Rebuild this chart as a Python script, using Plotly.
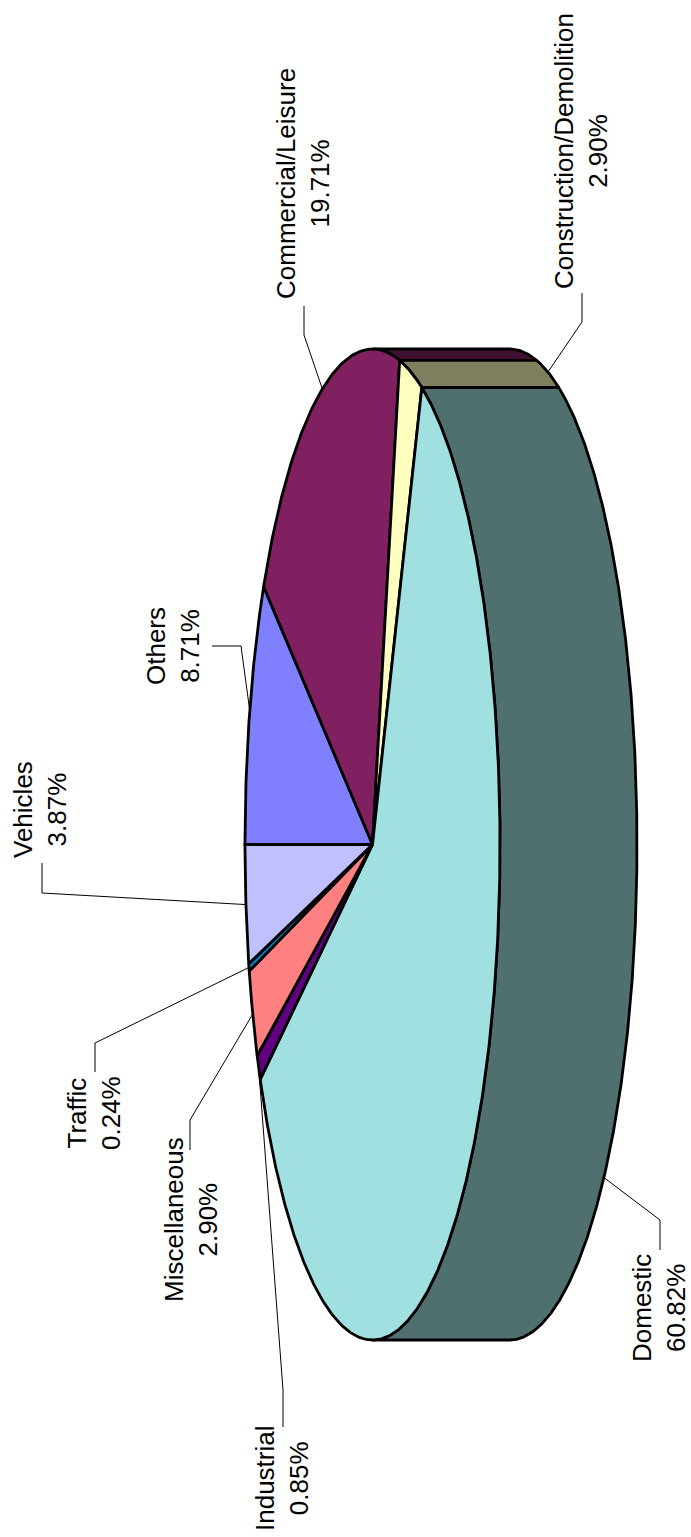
import numpy as np
import plotly.graph_objects as go

# Emission shares by source sector (percent), in pie order clockwise from 12 o'clock
categories = ["Others", "Commercial/Leisure", "Construction/Demolition", "Domestic",
              "Industrial", "Miscellaneous", "Traffic", "Vehicles"]
shares = [8.71, 19.71, 2.90, 60.82, 0.85, 2.90, 0.24, 3.87]
top_colors = ["#8080FF", "#802060", "#FFFFC0", "#A0E0E0",
              "#600080", "#FF8080", "#0080C0", "#C0C0FF"]

# Page geometry (pixel units on hidden axes); chart is drawn turned a quarter-turn
W, H = 691, 1537
CX, CY = 372.5, 844.5      # pie centre
RX, RY = 127.5, 495.5      # semi-axes of the tilted top face
DEPTH = 137                # thickness of the pie, drawn towards +x

# Label block centres and leader start/elbow points
label_layout = {
    "Others":                  dict(c=(173, 646),  start=(212, 646),  elbow=(241, 646)),
    "Commercial/Leisure":      dict(c=(303, 184),  start=(304, 306),  elbow=(304, 335)),
    "Construction/Demolition": dict(c=(581, 151),  start=(582, 293),  elbow=(582, 322)),
    "Domestic":                dict(c=(659, 1308), start=(660, 1250), elbow=(660, 1220)),
    "Industrial":              dict(c=(282, 1478), start=(283, 1427), elbow=(283, 1390)),
    "Miscellaneous":           dict(c=(191, 1220), start=(190, 1150), elbow=(190, 1120)),
    "Traffic":                 dict(c=(94, 1113),  start=(95, 1072),  elbow=(95, 1043)),
    "Vehicles":                dict(c=(40, 810),   start=(42, 863),   elbow=(42, 893)),
}
FONT = dict(family="Liberation Sans, Arial, sans-serif", size=26, color="black")


def darker(hex_color):
    r, g, b = (int(hex_color[i:i + 2], 16) for i in (1, 3, 5))
    return "#%02X%02X%02X" % (r // 2, g // 2, b // 2)


def point(phi_deg, dx=0.0):
    p = np.radians(phi_deg)
    return CX - RX * np.cos(p) + dx, CY - RY * np.sin(p)


def arc(a0, a1, dx=0.0, n=None):
    if n is None:
        n = max(3, int(abs(a1 - a0) * 2) + 2)
    t = np.linspace(a0, a1, n)
    x, y = point(t, dx)
    return list(x), list(y)


total = float(sum(shares))
bounds = np.concatenate([[0.0], np.cumsum(shares) / total * 360.0])

fig = go.Figure()
poly = dict(mode="lines", fill="toself", hoverinfo="skip", showlegend=False,
            line=dict(color="black", width=2.8))

# Side walls (only the front half, 90..270 degrees, is visible)
for i, name in enumerate(categories):
    a0, a1 = max(bounds[i], 90.0), min(bounds[i + 1], 270.0)
    if a1 <= a0:
        continue
    xt, yt = arc(a0, a1)
    xb, yb = arc(a1, a0, dx=DEPTH)
    fig.add_trace(go.Scatter(x=xt + xb + [xt[0]], y=yt + yb + [yt[0]],
                             fillcolor=darker(top_colors[i]), **poly))

# Top faces
for i, name in enumerate(categories):
    xa, ya = arc(bounds[i], bounds[i + 1])
    fig.add_trace(go.Scatter(x=[CX] + xa + [CX], y=[CY] + ya + [CY],
                             fillcolor=top_colors[i], **poly))

# Labels with leader lines
for i, name in enumerate(categories):
    lay = label_layout[name]
    mid = (bounds[i] + bounds[i + 1]) / 2.0
    dx = DEPTH if 90.0 < mid < 270.0 else 0.0
    ex, ey = point(mid, dx)
    fig.add_trace(go.Scatter(x=[lay["start"][0], lay["elbow"][0], ex],
                             y=[lay["start"][1], lay["elbow"][1], ey],
                             mode="lines", hoverinfo="skip", showlegend=False,
                             line=dict(color="black", width=1)))
    fig.add_annotation(x=lay["c"][0], y=lay["c"][1], xref="x", yref="y",
                       text=f"{name}<br>{shares[i]:.2f}%", showarrow=False,
                       textangle=-90, xanchor="center", yanchor="middle",
                       align="center", font=FONT)

fig.update_xaxes(range=[0, W], visible=False, fixedrange=True)
fig.update_yaxes(range=[H, 0], visible=False, fixedrange=True)
fig.update_layout(width=W, height=H, margin=dict(l=0, r=0, t=0, b=0),
                  paper_bgcolor="white", plot_bgcolor="white")

fig.write_html("out.html")
